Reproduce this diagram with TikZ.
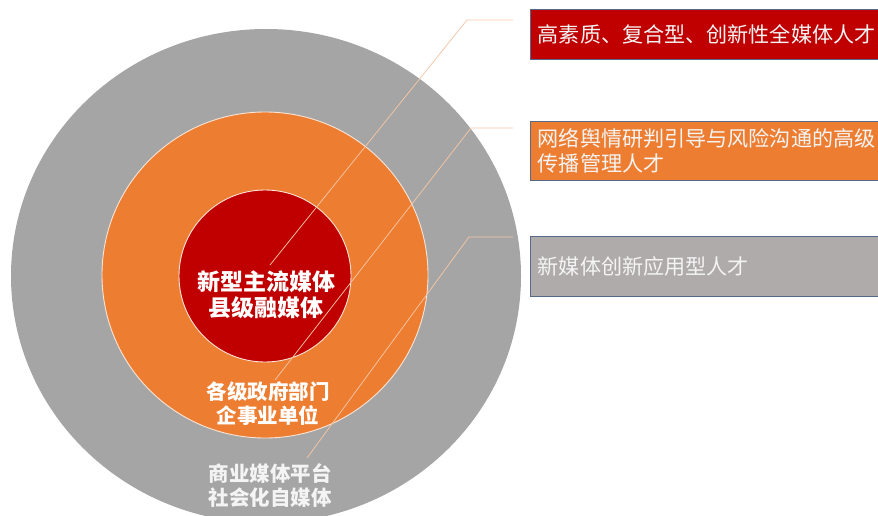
\documentclass[tikz,border=0pt]{standalone}
\usepackage{fontspec}
\setmainfont{Noto Sans CJK SC}
\definecolor{ringgrey}{HTML}{A5A5A5}
\definecolor{ringorange}{HTML}{ED7D31}
\definecolor{ringred}{HTML}{C00000}
\definecolor{ringedge}{HTML}{FBE5D6}
\definecolor{boxgrey}{HTML}{AFABAB}
\definecolor{boxedge}{HTML}{56698A}
\definecolor{leader}{HTML}{F4C6A6}
\definecolor{softwhite}{HTML}{F4F4F4}
\begin{document}
\begin{tikzpicture}[x=1pt,y=-1pt,
  ring/.style={circle, draw=ringedge, line width=0.9pt, inner sep=0pt},
  ringtext/.style={text=white, align=center, font=\bfseries\fontsize{20.5}{24}\selectfont},
  talentbox/.style={rectangle, draw=boxedge, line width=0.7pt, anchor=west,
    inner xsep=8pt, inner ysep=0pt, text width=345pt, align=left, text=softwhite,
    font=\fontsize{21.1}{25}\selectfont},
  leaderline/.style={draw=leader, line width=0.75pt}]
\useasboundingbox (0,0) rectangle (878,516);
\clip (0,0) rectangle (878,516);
% rings
\fill[ringgrey] (266,276) ellipse [x radius=255, y radius=247];
\node[ring, fill=ringorange, minimum size=326pt] (mid) at (265,275) {};
\node[ring, fill=ringred, minimum size=172pt] (core) at (265,276) {};
% ring labels
\node[ringtext, font=\bfseries\fontsize{23}{26}\selectfont] (coretext) at (266,295) {新型主流媒体\\县级融媒体};
\node[ringtext] (midtext) at (268,404) {各级政府部门\\企事业单位};
\node[ringtext, text=softwhite] (outtext) at (270,485) {商业媒体平台\\社会化自媒体};
% boxes
\node[talentbox, fill=ringred, minimum height=50pt] (b1) at (529.5,34) {高素质、复合型、创新性全媒体人才};
\node[talentbox, fill=ringorange, minimum height=59pt] (b2) at (529.5,150.5) {网络舆情研判引导与风险沟通的高级\\传播管理人才};
\node[talentbox, fill=boxgrey, minimum height=60pt] (b3) at (529.5,266) {新媒体创新应用型人才};
% leader line anchors
\coordinate (s1) at (513,20);
\coordinate (k1) at (467,20);
\coordinate (e1) at (270,265);
\coordinate (s2) at (513,128);
\coordinate (k2) at (471,128);
\coordinate (e2) at (275,380);
\coordinate (s3) at (513,237);
\coordinate (k3) at (469,237);
\coordinate (e3) at (307,458);
\draw[leaderline] (s1) -- (k1) -- (e1);
\draw[leaderline] (s2) -- (k2) -- (e2);
\draw[leaderline] (s3) -- (k3) -- (e3);
\end{tikzpicture}
\end{document}
